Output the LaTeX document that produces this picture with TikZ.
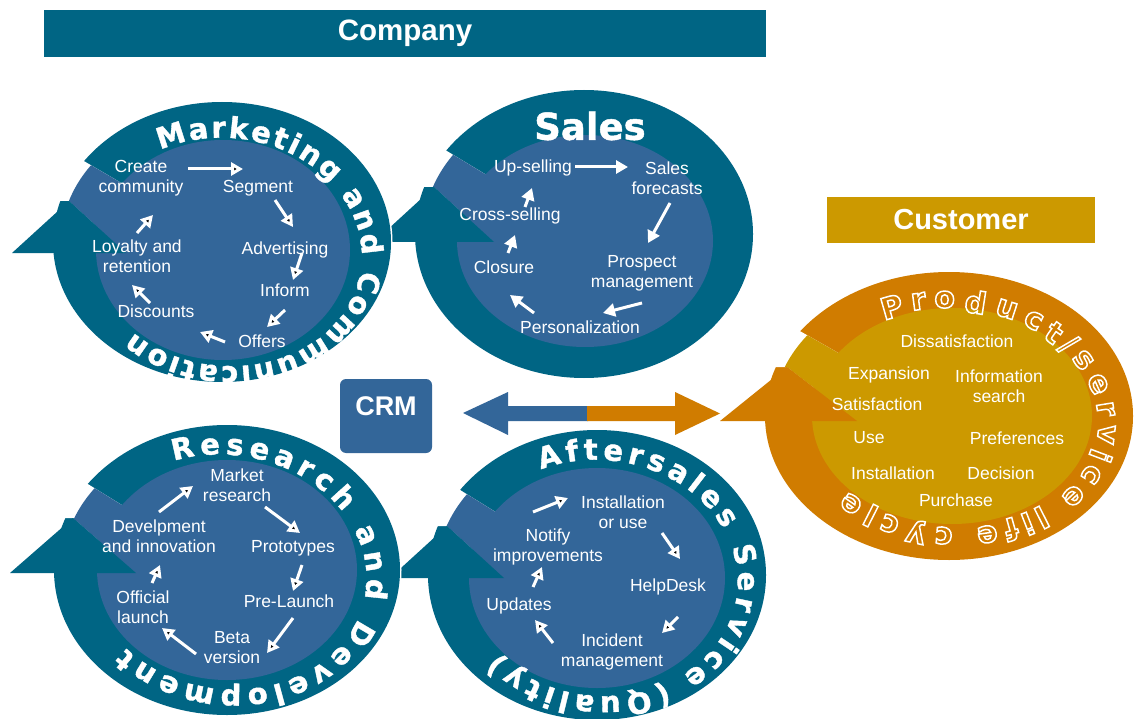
\documentclass[tikz,border=0pt]{standalone}
\usepackage{fontspec}
\setmainfont{Liberation Sans}
\newfontfamily\ringfont{DejaVu Sans}[BoldFeatures={FakeBold=1.3}]
\newfontfamily\custfont{DejaVu Sans}
\usetikzlibrary{arrows.meta,calc,decorations.text}
\definecolor{ringblue}{HTML}{006584}
\definecolor{innerblue}{HTML}{336699}
\definecolor{ringorange}{HTML}{D07C00}
\definecolor{innergold}{HTML}{CC9900}
\newcommand\rtxt{\ringfont\bfseries\fontsize{29}{29}\selectfont}
\newcommand\ctxt{\custfont\bfseries\fontsize{30}{30}\selectfont}
\newcommand\outl[1]{\special{pdf:literal direct 1 Tr 1.5 w}#1\special{pdf:literal direct 0 Tr}}
\tikzset{
  lbl/.style={text=white, align=center, font=\fontsize{17.5}{20}\selectfont, inner sep=0pt},
  warr/.style={draw=white, line width=3pt, -{Triangle[length=12pt,width=13pt]}},
  halo/.style={draw=white, line width=3pt},
  ringtext/.style={decorate, decoration={text along path, text align={fit to path}, text color=white}},
}
\begin{document}
\begin{tikzpicture}[x=1pt,y=-1pt]
\useasboundingbox (0,0) rectangle (1134,719);
\fill[white] (0,0) rectangle (1134,719);

% ---------- Company header ----------
\node[fill=ringblue, minimum width=722pt, minimum height=47pt, inner sep=0pt,
      text=white, font=\bfseries\fontsize{29.5}{30}\selectfont] (company) at (405,33.5) {Company};

% ---------- Sales ring ----------
\coordinate (sac) at (584,234);
\draw[halo] (sac) ellipse[x radius=169,y radius=144];
\draw[halo] (374,242)--(434,187)--(494,242)--cycle;
\fill[ringblue] (sac) ellipse[x radius=169,y radius=144];
\fill[white] (584,234)--(432,142)--(419,142)--(419,187)--(434,187)--(494,242)--cycle;
\begin{scope}
\clip (584,234)--(432,142)--(419,142)--(419,187)--(434,187)--(494,242)--cycle;
\fill[innerblue] (sac) ellipse[x radius=161,y radius=136];
\end{scope}
\fill[innerblue] (585,241) ellipse[x radius=128,y radius=106];
\fill[ringblue] (374,242)--(434,187)--(494,242)--cycle;
\node[text=white, font=\ringfont\bfseries\fontsize{37}{37}\selectfont, inner sep=0pt] (salesT) at (590,126) {Sales};

\node[lbl] (sa1) at (533,168) {Up-selling};
\node[lbl] (sa2) at (667,178) {Sales\\forecasts};
\node[lbl] (sa3) at (642,273) {Prospect\\management};
\node[lbl] (sa4) at (580,327) {Personalization};
\node[lbl] (sa5) at (504,267) {Closure};
\node[lbl] (sa6) at (510,216) {Cross-selling};
\coordinate (sa12a) at (575,167); \coordinate (sa12b) at (628,167);
\coordinate (sa23a) at (670,203); \coordinate (sa23b) at (648,243);
\coordinate (sa34a) at (642,303); \coordinate (sa34b) at (603,313);
\coordinate (sa45a) at (534,313); \coordinate (sa45b) at (510,295);
\coordinate (sa56a) at (508,253); \coordinate (sa56b) at (515,235);
\coordinate (sa61a) at (525,207); \coordinate (sa61b) at (532,188);
\draw[warr] (sa12a)--(sa12b);
\draw[warr] (sa23a)--(sa23b);
\draw[warr] (sa34a)--(sa34b);
\draw[warr] (sa45a)--(sa45b);
\draw[warr] (sa56a)--(sa56b);
\draw[warr] (sa61a)--(sa61b);

% ---------- Marketing ring ----------
\coordinate (mkc) at (222,242);
\draw[halo] (mkc) ellipse[x radius=169,y radius=140];
\draw[halo] (12,253)--(69,201)--(126,253)--cycle;
\fill[ringblue] (mkc) ellipse[x radius=169,y radius=140];
\fill[white] (222,242)--(71,153.5)--(54,153.5)--(54,201)--(69,201)--(126,253)--cycle;
\begin{scope}
\clip (222,242)--(71,153.5)--(54,153.5)--(54,201)--(69,201)--(126,253)--cycle;
\fill[innerblue] (mkc) ellipse[x radius=161,y radius=132];
\end{scope}
\fill[innerblue] (223,250) ellipse[x radius=127,y radius=110];
\fill[ringblue] (12,253)--(69,201)--(126,253)--cycle;
\path[ringtext, rotate around={-6:(226,252)}, decoration={text={|\rtxt|Marketing and Communication}}]
  ($(226,252)+(236:136 and 114)$) arc[start angle=236,end angle=488,x radius=136,y radius=114];

\node[lbl] (mk1) at (141,178) {Create\\community};
\node[lbl] (mk2) at (258,188) {Segment};
\node[lbl] (mk3) at (285,250) {Advertising};
\node[lbl] (mk4) at (285,290) {Inform};
\node[lbl] (mk5) at (262,341) {Offers};
\node[lbl] (mk6) at (156,311) {Discounts};
\node[lbl] (mk7) at (137,256) {Loyalty and\\retention};
\coordinate (mk12a) at (188,169); \coordinate (mk12b) at (243,169);
\coordinate (mk23a) at (275,200); \coordinate (mk23b) at (293,227);
\coordinate (mk34a) at (302,253); \coordinate (mk34b) at (293,280);
\coordinate (mk45a) at (285,310); \coordinate (mk45b) at (267,327);
\coordinate (mk56a) at (225,342); \coordinate (mk56b) at (200,332);
\coordinate (mk67a) at (150,303); \coordinate (mk67b) at (132,285);
\coordinate (mk71a) at (137,233); \coordinate (mk71b) at (153,215);
\draw[warr] (mk12a)--(mk12b);
\draw[warr] (mk23a)--(mk23b);
\draw[warr] (mk34a)--(mk34b);
\draw[warr] (mk45a)--(mk45b);
\draw[warr] (mk56a)--(mk56b);
\draw[warr] (mk67a)--(mk67b);
\draw[warr] (mk71a)--(mk71b);

% ---------- Aftersales ring ----------
\coordinate (afc) at (597,575);
\draw[halo] (afc) ellipse[x radius=169,y radius=145];
\draw[halo] (390,578)--(447,526)--(504,578)--cycle;
\fill[ringblue] (afc) ellipse[x radius=169,y radius=145];
\fill[white] (597,575)--(444,480)--(432,480)--(432,526)--(447,526)--(504,578)--cycle;
\begin{scope}
\clip (597,575)--(444,480)--(432,480)--(432,526)--(447,526)--(504,578)--cycle;
\fill[innerblue] (afc) ellipse[x radius=161,y radius=137];
\end{scope}
\fill[innerblue] (597,578) ellipse[x radius=128,y radius=110];
\fill[ringblue] (390,578)--(447,526)--(504,578)--cycle;
\path[ringtext, rotate around={-6:(600,578)}, decoration={text={|\rtxt|Aftersales Service (Quality)}}]
  ($(600,578)+(239.5:138 and 118)$) arc[start angle=239.5,end angle=493,x radius=138,y radius=118];

\node[lbl] (af1) at (623,512) {Installation\\or use};
\node[lbl] (af2) at (668,587) {HelpDesk};
\node[lbl] (af3) at (612,652) {Incident\\management};
\node[lbl] (af4) at (519,606) {Updates};
\node[lbl] (af5) at (548,547) {Notify\\improvements};
\coordinate (af51a) at (533,512); \coordinate (af51b) at (568,498);
\coordinate (af12a) at (662,533); \coordinate (af12b) at (680,559);
\coordinate (af23a) at (678,617); \coordinate (af23b) at (662,633);
\coordinate (af34a) at (553,643); \coordinate (af34b) at (535,620);
\coordinate (af45a) at (533,587); \coordinate (af45b) at (542,567);
\draw[warr] (af51a)--(af51b);
\draw[warr] (af12a)--(af12b);
\draw[warr] (af23a)--(af23b);
\draw[warr] (af34a)--(af34b);
\draw[warr] (af45a)--(af45b);

% ---------- R&D ring ----------
\coordinate (rdc) at (227,570);
\draw[halo] (rdc) ellipse[x radius=173,y radius=145];
\draw[halo] (10,573)--(73,518)--(136,573)--cycle;
\fill[ringblue] (rdc) ellipse[x radius=173,y radius=145];
\fill[white] (227,570)--(70,473)--(58,473)--(58,518)--(73,518)--(136,573)--cycle;
\begin{scope}
\clip (227,570)--(70,473)--(58,473)--(58,518)--(73,518)--(136,573)--cycle;
\fill[innerblue] (rdc) ellipse[x radius=165,y radius=137];
\end{scope}
\fill[innerblue] (227,570) ellipse[x radius=130,y radius=110];
\fill[ringblue] (10,573)--(73,518)--(136,573)--cycle;
\path[ringtext, rotate around={-9:(227,572)}, decoration={text={|\rtxt|Research and Development}}]
  ($(227,572)+(240:140 and 117)$) arc[start angle=240,end angle=489,x radius=140,y radius=117];

\node[lbl] (rd1) at (237,485) {Market\\research};
\node[lbl] (rd2) at (293,548) {Prototypes};
\node[lbl] (rd3) at (289,601) {Pre-Launch};
\node[lbl] (rd4) at (232,648) {Beta\\version};
\node[lbl] (rd5) at (143,607) {Official\\launch};
\node[lbl] (rd6) at (159,536) {Develpment\\and innovation};
\coordinate (rd61a) at (159,512); \coordinate (rd61b) at (193,486);
\coordinate (rd12a) at (265,507); \coordinate (rd12b) at (300,533);
\coordinate (rd23a) at (302,565); \coordinate (rd23b) at (293,591);
\coordinate (rd34a) at (293,618); \coordinate (rd34b) at (267,653);
\coordinate (rd45a) at (196,654); \coordinate (rd45b) at (162,628);
\coordinate (rd56a) at (152,583); \coordinate (rd56b) at (160,565);
\draw[warr] (rd61a)--(rd61b);
\draw[warr] (rd12a)--(rd12b);
\draw[warr] (rd23a)--(rd23b);
\draw[warr] (rd34a)--(rd34b);
\draw[warr] (rd45a)--(rd45b);
\draw[warr] (rd56a)--(rd56b);

% ---------- CRM and double arrow ----------
\node[fill=innerblue, rounded corners=6pt, minimum width=92pt, minimum height=74pt, inner sep=0pt] (crm) at (386,416) {};
\node[text=white, font=\bfseries\fontsize{27}{27}\selectfont, inner sep=0pt] (crmT) at (386,406) {CRM};
\fill[innerblue] (463,413)--(508,392)--(508,406)--(588,406)--(588,421)--(508,421)--(508,435)--cycle;
\fill[ringorange] (587,406)--(675,406)--(675,392)--(720,413.5)--(675,435)--(675,421)--(587,421)--cycle;

% ---------- Customer ----------
\node[fill=innergold, minimum width=268pt, minimum height=46pt, inner sep=0pt,
      text=white, font=\bfseries\fontsize{29}{30}\selectfont] (customer) at (961,220) {Customer};
\coordinate (cuc) at (949,416);
\fill[ringorange] (cuc) ellipse[x radius=184,y radius=144];
\fill[white] (949,416)--(784,322)--(772,322)--(772,367)--(787,367)--(857,421)--cycle;
\begin{scope}
\clip (949,416)--(784,322)--(772,322)--(772,367)--(787,367)--(857,421)--cycle;
\fill[innergold] (cuc) ellipse[x radius=176,y radius=136];
\end{scope}
\fill[innergold] (952,416) ellipse[x radius=140,y radius=108];
\fill[ringorange] (720,421)--(787,367)--(857,421)--cycle;
\path[rotate around={-5:(952,418)}, decorate, decoration={text effects along path, text={Product/service life cycle},
   text effects/.cd, fit text to path, character command=\outl,
   every character/.style={font=\ctxt, text=white, inner sep=0pt, transform shape}}]
  ($(952,418)+(239:155 and 118)$) arc[start angle=239,end angle=491,x radius=155,y radius=118];

\node[lbl] (cu1) at (957,341) {Dissatisfaction};
\node[lbl] (cu2) at (889,375) {Expansion};
\node[lbl] (cu3) at (999,386) {Information\\search};
\node[lbl] (cu4) at (877,404) {Satisfaction};
\node[lbl] (cu5) at (869,438) {Use};
\node[lbl] (cu6) at (1017,438) {Preferences};
\node[lbl] (cu7) at (893,473) {Installation};
\node[lbl] (cu8) at (1001,473) {Decision};
\node[lbl] (cu9) at (956,500) {Purchase};
\end{tikzpicture}
\end{document}
